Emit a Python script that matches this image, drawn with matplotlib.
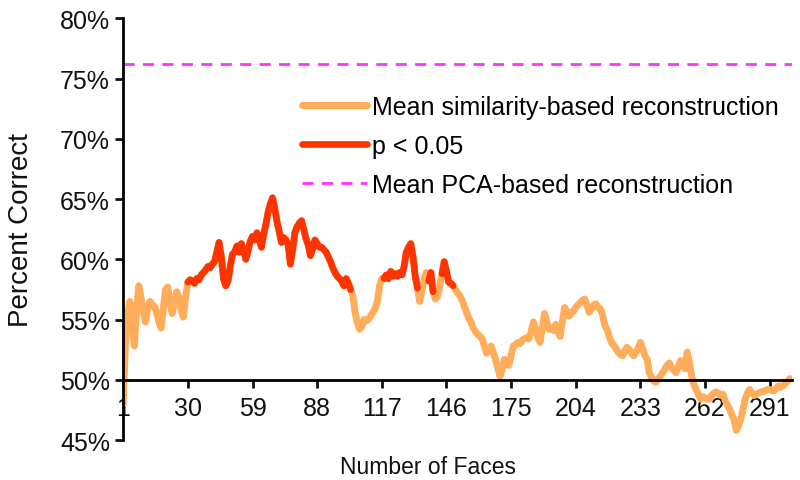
import numpy as np
import matplotlib
matplotlib.use('Agg')
import matplotlib.pyplot as plt

plt.rcParams['font.family'] = ['Liberation Sans', 'DejaVu Sans']

# mean percent correct of similarity-based reconstruction, faces 1..300
mean_sim = [
    48.0, 53.0, 55.5, 56.5, 54.5, 52.8, 55.8, 57.8, 56.8, 55.6,
    54.8, 55.9, 56.5, 56.2, 56.1, 55.6, 54.8, 54.3, 55.9, 57.5,
    57.7, 56.4, 55.5, 56.6, 57.3, 56.8, 55.8, 55.2, 56.9, 58.1,
    58.3, 58.2, 58.0, 58.4, 58.3, 58.7, 58.9, 59.1, 59.4, 59.3,
    59.6, 59.8, 60.6, 61.4, 60.2, 58.4, 57.8, 58.2, 59.4, 60.4,
    60.6, 61.1, 60.6, 61.3, 60.8, 60.0, 60.7, 61.5, 61.9, 61.6,
    62.2, 61.7, 61.0, 62.1, 62.9, 63.9, 64.6, 65.1, 64.2, 63.1,
    62.3, 61.4, 61.8, 61.6, 61.2, 59.6, 60.8, 62.2, 62.7, 63.0,
    63.2, 62.5, 61.7, 61.2, 60.3, 60.9, 61.6, 61.3, 61.0, 61.0,
    60.8, 60.6, 60.2, 59.8, 59.3, 58.9, 58.6, 58.4, 58.2, 57.8,
    58.4, 58.0, 57.5, 57.0, 55.6, 54.8, 54.2, 54.4, 55.0, 54.9,
    55.0, 55.3, 55.6, 55.9, 56.5, 57.8, 58.4, 58.4, 58.7, 58.4,
    59.0, 58.6, 58.8, 58.6, 58.9, 58.7, 59.4, 60.6, 61.0, 61.3,
    60.2, 58.6, 57.6, 56.5, 57.5, 58.3, 58.9, 58.2, 58.9, 57.3,
    56.7, 56.9, 57.8, 58.8, 59.8, 59.0, 58.1, 58.0, 57.8, 57.5,
    57.2, 57.0, 56.6, 56.1, 55.6, 55.1, 54.8, 54.3, 54.0, 53.8,
    53.6, 53.4, 52.8, 52.2, 52.4, 52.8, 52.3, 51.7, 51.0, 50.3,
    50.8, 51.7, 51.4, 51.2, 52.0, 52.8, 52.9, 53.1, 53.0, 53.3,
    53.4, 53.5, 53.4, 54.0, 54.8, 54.2, 53.5, 53.1, 54.3, 55.5,
    54.8, 54.2, 54.3, 54.1, 54.6, 54.0, 53.6, 54.8, 56.0, 55.7,
    55.3, 55.5, 55.7, 56.0, 56.2, 56.4, 56.6, 56.7, 56.2, 55.6,
    55.9, 56.2, 56.3, 56.0, 55.9, 55.4, 54.5, 54.2, 53.6, 53.1,
    52.9, 52.6, 52.3, 52.1, 52.0, 52.4, 52.7, 52.5, 52.2, 52.0,
    52.3, 52.6, 53.1, 52.6, 52.0, 51.7, 50.6, 50.2, 49.9, 49.8,
    50.1, 50.3, 50.6, 50.9, 51.2, 51.4, 51.0, 50.8, 50.6, 51.1,
    51.6, 51.3, 50.9, 52.3, 51.4, 50.3, 49.6, 49.2, 48.8, 48.4,
    48.6, 48.5, 48.4, 48.4, 48.7, 48.9, 49.0, 48.9, 48.7, 48.8,
    48.3, 47.9, 47.6, 47.1, 46.7, 45.8, 46.2, 46.7, 47.5, 48.4,
    48.9, 49.2, 48.9, 48.7, 48.8, 48.9, 49.0, 49.0, 49.1, 49.2,
    49.2, 49.1, 49.1, 49.3, 49.5, 49.4, 49.5, 49.7, 49.9, 50.1,
]

# ranges of faces (inclusive) where p < 0.05
sig_ranges = [(30, 103), (118, 133), (138, 140), (144, 149)]

pca_mean = 76.2

x_ticks = [1, 30, 59, 88, 117, 146, 175, 204, 233, 262, 291]
y_ticks = [45, 50, 55, 60, 65, 70, 75, 80]

faces = np.arange(1, len(mean_sim) + 1)
mean_arr = np.array(mean_sim)
sig_arr = np.full(len(mean_sim), np.nan)
for a, b in sig_ranges:
    sig_arr[a - 1:b] = mean_arr[a - 1:b]

fig = plt.figure(figsize=(8, 4.81), dpi=100)
ax = fig.add_axes([0.154, 0.083, 0.836, 0.877])

ax.plot(faces, mean_arr, color='#ffad5a', lw=5, solid_capstyle='round',
        solid_joinstyle='round', label='Mean similarity-based reconstruction')
ax.plot(faces, sig_arr, color='#ff3300', lw=4.8, solid_capstyle='round',
        solid_joinstyle='round', label='p < 0.05')
ax.axhline(pca_mean, color='#ff33ff', lw=2, dashes=(4, 3),
           label='Mean PCA-based reconstruction')

ax.set_xlim(1, 301)
ax.set_ylim(45, 80)
ax.set_xticks(x_ticks)
ax.set_yticks(y_ticks)
ax.set_yticklabels([f'{v}%' for v in y_ticks])

ax.spines['top'].set_visible(False)
ax.spines['right'].set_visible(False)
ax.spines['bottom'].set_position(('data', 50))
ax.spines['bottom'].set_linewidth(2)
ax.spines['left'].set_linewidth(2)
ax.tick_params(axis='both', direction='out', length=6, width=2,
               labelsize=18, colors='#111111')
ax.tick_params(axis='x', pad=6)

ax.set_xlabel('Number of Faces', fontsize=16.5, color='#111111')
ax.xaxis.set_label_coords(0.456, -0.035)
ax.set_ylabel('Percent Correct', fontsize=20, color='#111111')
ax.yaxis.set_label_coords(-0.133, 0.5)

ax.legend(loc='upper left', bbox_to_anchor=(0.3775, 0.80),
          bbox_transform=fig.transFigure, frameon=False, fontsize=18,
          handlelength=2.6, handletextpad=0.2, labelspacing=0.6,
          borderpad=0, borderaxespad=0)

fig.savefig('out.png', dpi=100)
